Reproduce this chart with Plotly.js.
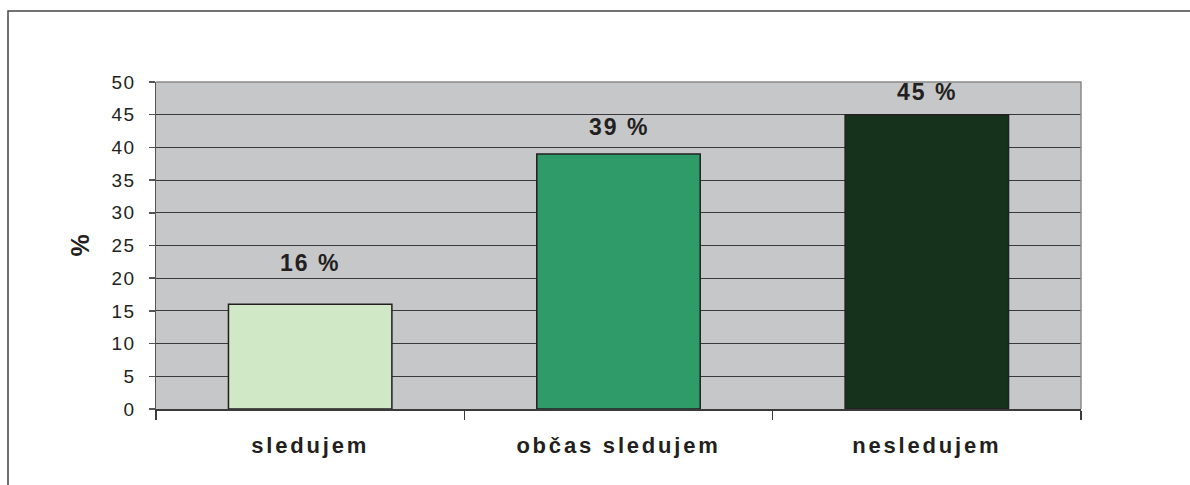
<!DOCTYPE html>
<html>
<head>
<meta charset="utf-8">
<script src="https://cdn.plot.ly/plotly-3.0.1.min.js"></script>
<style>
  html, body { margin: 0; padding: 0; background: #ffffff; }
  #chart { width: 1190px; height: 485px; }
  /* widen the lettering a little */
  #chart .xtick text { letter-spacing: 2.8px; }
  #chart .ytick text { letter-spacing: 1.5px; }
  #chart .annotation-text { letter-spacing: 2px; }
</style>
</head>
<body>
<div id="chart"></div>
<script>
// Survey answers and their shares in percent
const categories = ['sledujem', 'občas sledujem', 'nesledujem'];
const shares = [16, 39, 45];
const barColors = ['#D0E8C6', '#2E9B68', '#17321C'];
const yTicks = [0, 5, 10, 15, 20, 25, 30, 35, 40, 45, 50];

const textColor = '#231F20';
const fontFamily = '"Liberation Sans", Arial, sans-serif';

const trace = {
  type: 'bar',
  x: categories,
  y: shares,
  width: 0.53,
  marker: { color: barColors, line: { color: '#231F20', width: 1.5 } },
  hoverinfo: 'skip'
};

// value labels sit a little above each bar
const labelLift = [26, 12, 8];
const annotations = shares.map((v, i) => ({
  x: categories[i], y: v, xref: 'x', yref: 'y',
  text: v + ' %', showarrow: false,
  yanchor: 'bottom', yshift: labelLift[i],
  font: { family: fontFamily, size: 23, color: textColor, weight: 'bold' }
}));

const layout = {
  width: 1190, height: 485,
  margin: { l: 156, r: 109, t: 82, b: 76, pad: 0 },
  paper_bgcolor: '#ffffff',
  plot_bgcolor: '#C6C7C9',
  showlegend: false,
  bargap: 0.47,
  xaxis: {
    type: 'category',
    showgrid: false,
    showline: true, linecolor: '#3a3a3a', linewidth: 1.5,
    ticks: 'outside', tickson: 'boundaries', ticklen: 9, tickcolor: '#3a3a3a', tickwidth: 1.5,
    ticklabelstandoff: 16,
    tickfont: { family: fontFamily, size: 22, color: textColor, weight: 'bold' },
    fixedrange: true
  },
  yaxis: {
    range: [0, 50],
    tickvals: yTicks,
    ticktext: yTicks.map(String),
    showgrid: true, gridcolor: '#3a3a3a', gridwidth: 1,
    zeroline: false,
    showline: true, linecolor: '#555555', linewidth: 1.5,
    ticks: 'outside', ticklen: 6, tickcolor: '#555555', tickwidth: 1.5,
    ticklabelstandoff: 9,
    tickfont: { family: fontFamily, size: 19, color: textColor },
    title: { text: '%', standoff: 18, font: { family: fontFamily, size: 25, color: textColor, weight: 'bold' } },
    fixedrange: true
  },
  annotations: annotations,
  shapes: [
    // light border on top and right of the plot area
    { type: 'path', xref: 'paper', yref: 'paper', path: 'M 0 1 L 1 1 L 1 0',
      line: { color: '#8a8a8a', width: 1.5 }, layer: 'above' },
    // outer frame of the figure
    { type: 'path', xref: 'paper', yref: 'paper',
      path: 'M -0.16 -0.3 L -0.16 1.217 L 1.2 1.217',
      line: { color: '#444444', width: 1.5 }, layer: 'above' }
  ]
};

Plotly.newPlot('chart', [trace], layout, { displayModeBar: false, staticPlot: true });
</script>
</body>
</html>
